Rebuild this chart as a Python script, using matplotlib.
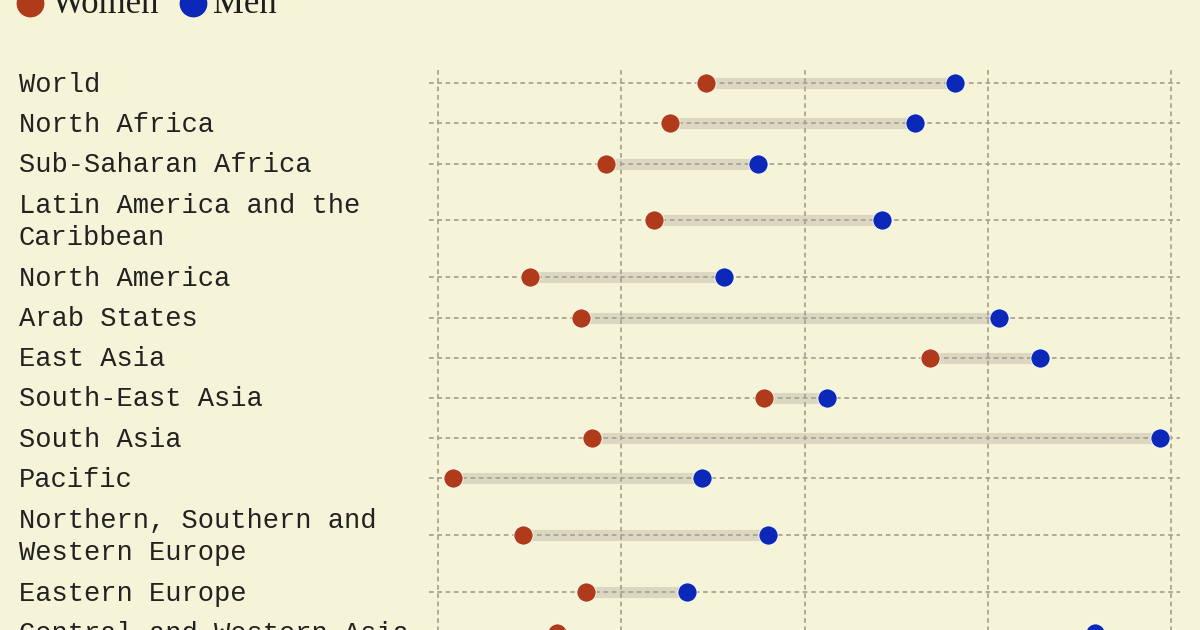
import matplotlib
matplotlib.use("Agg")
import matplotlib.pyplot as plt
import numpy as np

# regions, top to bottom (share of ... in %)
regions = ["World", "North Africa", "Sub-Saharan Africa",
           "Latin America and the\nCaribbean", "North America", "Arab States",
           "East Asia", "South-East Asia", "South Asia", "Pacific",
           "Northern, Southern and\nWestern Europe", "Eastern Europe",
           "Central and Western Asia"]
women = [29.2, 25.3, 18.3, 23.6, 10.0, 15.6, 53.7, 35.6, 16.8, 1.6, 9.3, 16.2, 13.0]
men = [56.4, 52.1, 34.9, 48.5, 31.2, 61.2, 65.7, 42.5, 78.8, 28.8, 36.0, 27.2, 71.7]
xticks = [0, 20, 40, 60, 80]

bg = "#f6f4d8"
c_women = "#b03b1b"
c_men = "#0c28b8"
grid_c = "#a9a593"

W, H = 1200, 630
fig = plt.figure(figsize=(12, 6.3), dpi=100, facecolor=bg)

# row centres in pixels, taller rows for two-line labels
row_h, extra = 40.2, 33.5
ycent = []
top = 63
for lab in regions:
    h = row_h + extra * lab.count("\n")
    ycent.append(top + h / 2)
    top += h
ycent = np.array(ycent)

# chart axes (y in pixel units)
y0 = 70
ax = fig.add_axes([428.8 / W, 0, (1180.2 - 428.8) / W, (H - y0) / H])
ax.set_facecolor("none")
ax.set_xlim(-1, 81)
ax.set_ylim(H, y0)
for s in ax.spines.values():
    s.set_visible(False)
ax.set_xticks([])
ax.set_yticks([])

dash = (0, (2.6, 2.0))
ax.vlines(xticks, y0, H, colors=grid_c, linewidth=1.3, linestyles=dash, zorder=1)
ax.hlines(ycent, -1, 81, colors=grid_c, linewidth=1.3, linestyles=dash, zorder=1)
ax.hlines(ycent, women, men, colors="#dcd7c0", linewidth=8, zorder=0.5)
ax.plot(women, ycent, "o", color=c_women, markersize=13.8, markeredgecolor="white",
        markeredgewidth=0.6, zorder=3, clip_on=False)
ax.plot(men, ycent, "o", color=c_men, markersize=13.8, markeredgecolor="white",
        markeredgewidth=0.6, zorder=3, clip_on=False)

# overlay for labels and legend
ov = fig.add_axes([0, 0, 1, 1])
ov.set_facecolor("none")
ov.set_xlim(0, W)
ov.set_ylim(H, 0)
ov.axis("off")

for lab, yc in zip(regions, ycent):
    ov.text(19, yc + 1.5, lab, family="Liberation Mono", fontsize=19.5, color="#222222",
            va="center", ha="left", linespacing=1.3)

ov.plot([30], [3], "o", color=c_women, markersize=19, clip_on=False)
ov.plot([193], [3], "o", color=c_men, markersize=19, clip_on=False)
ov.text(52, 13, "Women", family="Liberation Serif", fontsize=25, color="#1e1e1e", va="baseline")
ov.text(213, 13, "Men", family="Liberation Serif", fontsize=25, color="#1e1e1e", va="baseline")

fig.savefig("out.png", dpi=100, facecolor=bg)
